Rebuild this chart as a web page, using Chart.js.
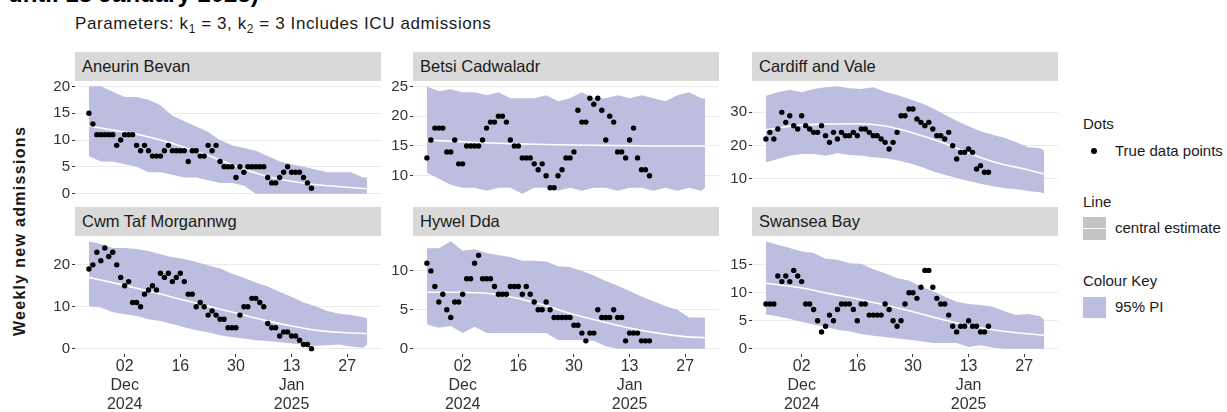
<!DOCTYPE html>
<html>
<head>
<meta charset="utf-8">
<script src="https://cdn.jsdelivr.net/npm/chart.js@4.4.1/dist/chart.umd.min.js"></script>
<style>
  html, body { margin: 0; padding: 0; background: #fff; }
  body {
    width: 1227px; height: 412px; overflow: hidden; position: relative;
    font-family: 'Liberation Sans', Arial, sans-serif; color: #1a1a1a;
  }
  .abs   { position: absolute; white-space: nowrap; }
  canvas { position: absolute; }
  sub    { font-size: 70%; vertical-align: -0.3em; line-height: 0; }
  .strip {
    position: absolute; background: #d9d9d9; height: 29px; line-height: 29px;
    font-size: 16.5px; padding-left: 7px; box-sizing: border-box; color: #1a1a1a;
  }
  .leg   { position: absolute; font-size: 15px; line-height: 15px; white-space: nowrap; color: #1a1a1a; }
  .key   { position: absolute; width: 23px; }
</style>
</head>
<body>

<div class="abs" style="left:8px;top:-18px;font-size:24px;line-height:24px;font-weight:bold;color:#000">until 18 January 2025)</div>
<div class="abs" style="left:75px;top:15px;font-size:17px;line-height:17px;letter-spacing:0.6px">Parameters: k<sub>1</sub> = 3, k<sub>2</sub> = 3 Includes ICU admissions</div>

<div class="abs" style="left:-110px;top:223px;width:260px;height:16px;text-align:center;font-size:16px;line-height:16px;font-weight:bold;letter-spacing:1.3px;transform:rotate(-90deg)">Weekly new admissions</div>

<!-- legend -->
<div class="leg" style="left:1083px;top:116px">Dots</div>
<div class="key" style="left:1091px;top:148px;width:6px;height:6px;border-radius:50%;background:#000"></div>
<div class="leg" style="left:1115px;top:143px">True data points</div>
<div class="leg" style="left:1083px;top:194px">Line</div>
<div class="key" style="left:1083px;top:217px;height:23px;background:#c4c4c4">
  <div style="position:absolute;left:0;top:10.5px;width:23px;height:1.5px;background:#fff"></div>
</div>
<div class="leg" style="left:1115px;top:220px">central estimate</div>
<div class="leg" style="left:1083px;top:273px">Colour Key</div>
<div class="key" style="left:1083px;top:297px;height:21px;background:#bdbddf"></div>
<div class="leg" style="left:1115px;top:299px">95% PI</div>

<script>
// ── Data ──────────────────────────────────────────────────────────────────
// x is days since 02 Dec 2024. Dots are daily, from 23 Nov 2024 (day -9).

const PANEL_NAMES = ['Aneurin Bevan', 'Betsi Cadwaladr', 'Cardiff and Vale',
                     'Cwm Taf Morgannwg', 'Hywel Dda', 'Swansea Bay'];

const FIRST_DOT_DAY = -9;
const X_TICK_DAYS   = [0, 14, 28, 42, 56];
const X_TICK_LABELS = [['02', 'Dec', '2024'], ['16'], ['30'], ['13', 'Jan', '2025'], ['27']];

const BAND_DAYS = [-9, -6, -3, 0, 3, 6, 9, 12, 15, 18, 21, 24, 27, 30, 33, 36, 39, 42, 45, 48, 51, 54, 57, 60, 61];
const LINE_DAYS = [-9, 0, 7, 14, 21, 28, 35, 42, 49, 56, 61];

// True data points
const aneurinDots = [15,13,11,11,11,11,11,9,10,11,11,11,9,8,9,8,7,7,7,8,9,8,8,8,8,6,8,8,7,7,9,8,9,6,5,5,5,3,5,4,5,5,5,5,5,3,2,2,3,4,5,4,4,4,3,2,1];
const betsiDots   = [13,16,18,18,18,14,14,16,12,12,15,15,15,15,16,18,19,19,20,20,19,16,15,15,13,13,13,12,11,12,10,8,8,10,11,13,13,14,21,19,19,23,22,23,21,16,20,19,14,14,13,16,18,13,11,11,10];
const cardiffDots = [22,24,22,25,30,27,29,26,25,29,26,25,24,24,26,23,21,24,22,24,23,23,24,23,25,25,24,23,23,22,21,19,21,24,29,29,31,31,28,27,26,27,25,23,23,22,24,20,16,18,18,19,18,13,14,12,12];
const cwmDots     = [19,20,23,21,24,22,23,20,17,15,16,11,11,10,13,14,15,14,18,17,18,16,17,18,16,13,13,10,11,10,8,9,8,7,7,5,5,5,8,10,10,12,12,11,10,6,5,5,3,4,4,3,3,2,1,1,0];
const hywelDots   = [11,10,8,6,7,5,4,6,6,7,9,9,11,12,9,9,9,8,7,7,7,8,8,8,7,8,7,6,5,5,6,5,4,4,4,4,4,3,3,2,1,2,2,5,4,4,4,5,4,4,1,2,2,2,1,1,1];
const swanseaDots = [8,8,8,13,12,13,12,14,13,12,8,8,7,5,3,4,6,5,7,8,8,8,7,5,8,8,6,6,6,6,8,7,5,4,5,8,10,10,9,11,14,14,11,9,8,8,6,4,3,4,4,5,4,4,3,3,4];

// 95% PI, upper and lower edges at BAND_DAYS
const aneurinHi = [20,20,19,18,18,17.5,16.5,14.5,13.5,12.5,11.5,10,9,8.5,8,7,6,5.5,5,4.5,4,4,4,3,3];
const aneurinLo = [7,6,6,5.5,5,4,4,3.5,3,3,2.5,2,2,1.5,0,0,0,0,0,0,0,0,0,0,0];
const betsiHi   = [25,24.2,24.5,24,24,23.5,24,23,23,23,23.5,22.5,23,24,23,23,23.5,23,23.5,23,22.5,23.5,24,23,23];
const betsiLo   = [10.5,9.5,8.5,8,8,7.5,8,8,7,8,8,7.5,8,7.5,8,8,7.5,8,8,7.5,8,7.5,8,7.5,8];
const cardiffHi = [35,36,36.8,36,37,37.5,37.8,37.2,37,37.5,36.2,35.2,34,32.8,31.2,29.3,27.5,25.8,24.3,23.3,22.4,21,19.5,19.2,18.5];
const cardiffLo = [15,16,17,17.5,17.5,17,17.7,17.2,17,16.5,16.2,15.6,14.8,13.7,12.3,11.3,10.3,9.4,8.6,7.8,7.3,6.9,6.4,6,5.6];
const cwmHi     = [25.6,25,24,24,23.8,23.3,22.5,21.8,21.4,20.7,19.9,19.1,17.9,16.9,15.8,14.8,13.5,12.4,11,10.1,9,8.3,8,7.5,7.2];
const cwmLo     = [10.2,9.8,8.7,8.2,7.8,7,6.6,5.9,5.1,4.4,3.9,3.2,2.7,2.4,2,1.8,1.5,1.2,1,0.7,0.8,1,0.5,0.2,1];
const hywelHi   = [12.9,12.9,13.8,12.6,12.8,12.3,12,11.8,11.3,11.3,11.2,10.6,10.5,10,9.4,8.7,8.1,7.4,6.7,6.1,5.5,5,4,4,4];
const hywelLo   = [3.1,2.7,2.9,2,2.8,2,2,2,2,2,2,1.1,1.1,1.1,1,0.3,0,0,0,0,0,0,0,0,0];
const swanseaHi = [19.2,18.6,18,17.4,17.1,16.1,15.9,15.3,15.2,14.2,13.5,12.6,12.2,11.1,10.3,9.3,8.4,8,7.8,7.5,6.7,6,6.2,5.8,5.2];
const swanseaLo = [6.1,5.8,5.3,4.8,4.3,3.9,3.4,3.1,2.6,2.3,2.1,1.8,1.6,1.3,1,1,1,0.3,0.6,0.2,0,0,0,0,0];

// Central estimate at LINE_DAYS
const aneurinMid = [12.6,11.5,10.4,8.9,7.1,5.1,3.4,2.3,1.6,1.2,0.9];
const betsiMid   = [16,15.7,15.5,15.35,15.25,15.15,15.1,15.05,15,15,15];
const cardiffMid = [24.8,26.2,26.5,26.6,25.9,23.8,21.1,17.8,14.9,13,11.5];
const cwmMid     = [17,15.1,13.5,11.8,10.15,8.5,6.8,5.4,4.3,3.8,3.6];
const hywelMid   = [7.26,7.25,7.06,6.45,5.5,4.4,3.5,2.65,2,1.55,1.4];
const swanseaMid = [11.7,10.85,9.85,8.9,7.8,6.6,5.3,4.1,3.3,2.7,2.4];

const Y_TICKS = [[0, 5, 10, 15, 20], [10, 15, 20, 25], [10, 20, 30],
                 [0, 10, 20], [0, 5, 10], [0, 5, 10, 15]];

const PANELS = [
  { dots: aneurinDots, lo: aneurinLo, hi: aneurinHi, mid: aneurinMid },
  { dots: betsiDots,   lo: betsiLo,   hi: betsiHi,   mid: betsiMid },
  { dots: cardiffDots, lo: cardiffLo, hi: cardiffHi, mid: cardiffMid },
  { dots: cwmDots,     lo: cwmLo,     hi: cwmHi,     mid: cwmMid },
  { dots: hywelDots,   lo: hywelLo,   hi: hywelHi,   mid: hywelMid },
  { dots: swanseaDots, lo: swanseaLo, hi: swanseaHi, mid: swanseaMid },
];

// ── Layout ────────────────────────────────────────────────────────────────

const COL_LEFT = [75, 413, 752];
const ROW_TOP  = [81, 236];
const PANEL_W  = 306;
const PANEL_H  = 118;
const STRIP_H  = 29;
const AXIS_W   = 45;   // room for y tick labels left of each panel
const PAD      = 14;
const X_AXIS_H = 60;

const BAND_COLOUR = '#bdbddf';
const TICK_COLOUR = '#333333';
const FONT = 'Liberation Sans, Arial, sans-serif';

// x range as ggplot would expand it: 5% of the data span each side
const X_MIN = -12.5, X_MAX = 64.5;

function toXY(days, values) {
  return values.map((v, i) => ({ x: days[i], y: v }));
}

function yLimits(p) {
  const all = p.dots.concat(p.lo, p.hi);
  const lo = Math.min(...all), hi = Math.max(...all);
  const pad = (hi - lo) * 0.05;
  return [lo - pad, hi + pad];
}

function makePanel(p, i) {
  const col = i % 3, row = Math.floor(i / 3);
  const left = COL_LEFT[col], top = ROW_TOP[row];
  const bottomRow = row === 1;

  // facet strip
  const strip = document.createElement('div');
  strip.className = 'strip';
  strip.style.left = left + 'px';
  strip.style.top = (top - STRIP_H) + 'px';
  strip.style.width = PANEL_W + 'px';
  strip.textContent = PANEL_NAMES[i];
  document.body.appendChild(strip);

  const canvas = document.createElement('canvas');
  const w = AXIS_W + PANEL_W + PAD;
  const h = PAD + PANEL_H + (bottomRow ? X_AXIS_H : PAD);
  canvas.width = w; canvas.height = h;
  canvas.style.left = (left - AXIS_W) + 'px';
  canvas.style.top = (top - PAD) + 'px';
  canvas.style.width = w + 'px';
  canvas.style.height = h + 'px';
  document.body.appendChild(canvas);

  const [yMin, yMax] = yLimits(p);
  const yTicks = Y_TICKS[i];

  new Chart(canvas.getContext('2d'), {
    type: 'line',
    data: {
      datasets: [
        {
          label: 'True data points',
          data: p.dots.map((v, k) => ({ x: FIRST_DOT_DAY + k, y: v })),
          showLine: false,
          pointRadius: 2.7,
          pointBorderWidth: 0,
          pointBackgroundColor: '#000',
          pointBorderColor: '#000',
        },
        {
          label: 'central estimate',
          data: toXY(LINE_DAYS, p.mid),
          borderColor: '#ffffff',
          borderWidth: 1.6,
          pointRadius: 0,
          tension: 0.4,
          cubicInterpolationMode: 'monotone',
        },
        {
          label: 'lower',
          data: toXY(BAND_DAYS, p.lo),
          borderColor: 'rgba(0,0,0,0)',
          borderWidth: 0,
          pointRadius: 0,
          fill: false,
        },
        {
          label: '95% PI',
          data: toXY(BAND_DAYS, p.hi),
          borderColor: 'rgba(0,0,0,0)',
          borderWidth: 0,
          pointRadius: 0,
          backgroundColor: BAND_COLOUR,
          fill: { target: 2 },
        },
      ],
    },
    options: {
      responsive: false,
      animation: false,
      devicePixelRatio: 1,
      layout: { padding: { top: PAD, right: PAD, bottom: bottomRow ? 0 : PAD, left: 0 } },
      plugins: { legend: { display: false }, tooltip: { enabled: false } },
      scales: {
        x: {
          type: 'linear',
          min: X_MIN, max: X_MAX,
          display: bottomRow,
          afterBuildTicks: axis => { axis.ticks = X_TICK_DAYS.map(v => ({ value: v })); },
          afterFit: axis => { axis.height = bottomRow ? X_AXIS_H : 0; },
          border: { display: false },
          grid: {
            display: true, drawOnChartArea: false, drawTicks: true,
            tickLength: 3, tickColor: TICK_COLOUR, tickWidth: 1,
          },
          ticks: {
            autoSkip: false, maxRotation: 0, padding: 0,
            color: TICK_COLOUR,
            font: { family: FONT, size: 16, lineHeight: 1.2 },
            callback: v => X_TICK_LABELS[X_TICK_DAYS.indexOf(v)],
          },
        },
        y: {
          min: yMin, max: yMax,
          afterBuildTicks: axis => { axis.ticks = yTicks.map(v => ({ value: v })); },
          afterFit: axis => { axis.width = AXIS_W; },
          border: { display: false },
          grid: {
            color: '#ebebeb', lineWidth: 1,
            drawTicks: true, tickLength: 3, tickColor: TICK_COLOUR, tickWidth: 1,
          },
          ticks: {
            padding: 2,
            color: TICK_COLOUR,
            font: { family: FONT, size: 15 },
            callback: v => String(v),
          },
        },
      },
    },
  });
}

PANELS.forEach(makePanel);
</script>
</body>
</html>
